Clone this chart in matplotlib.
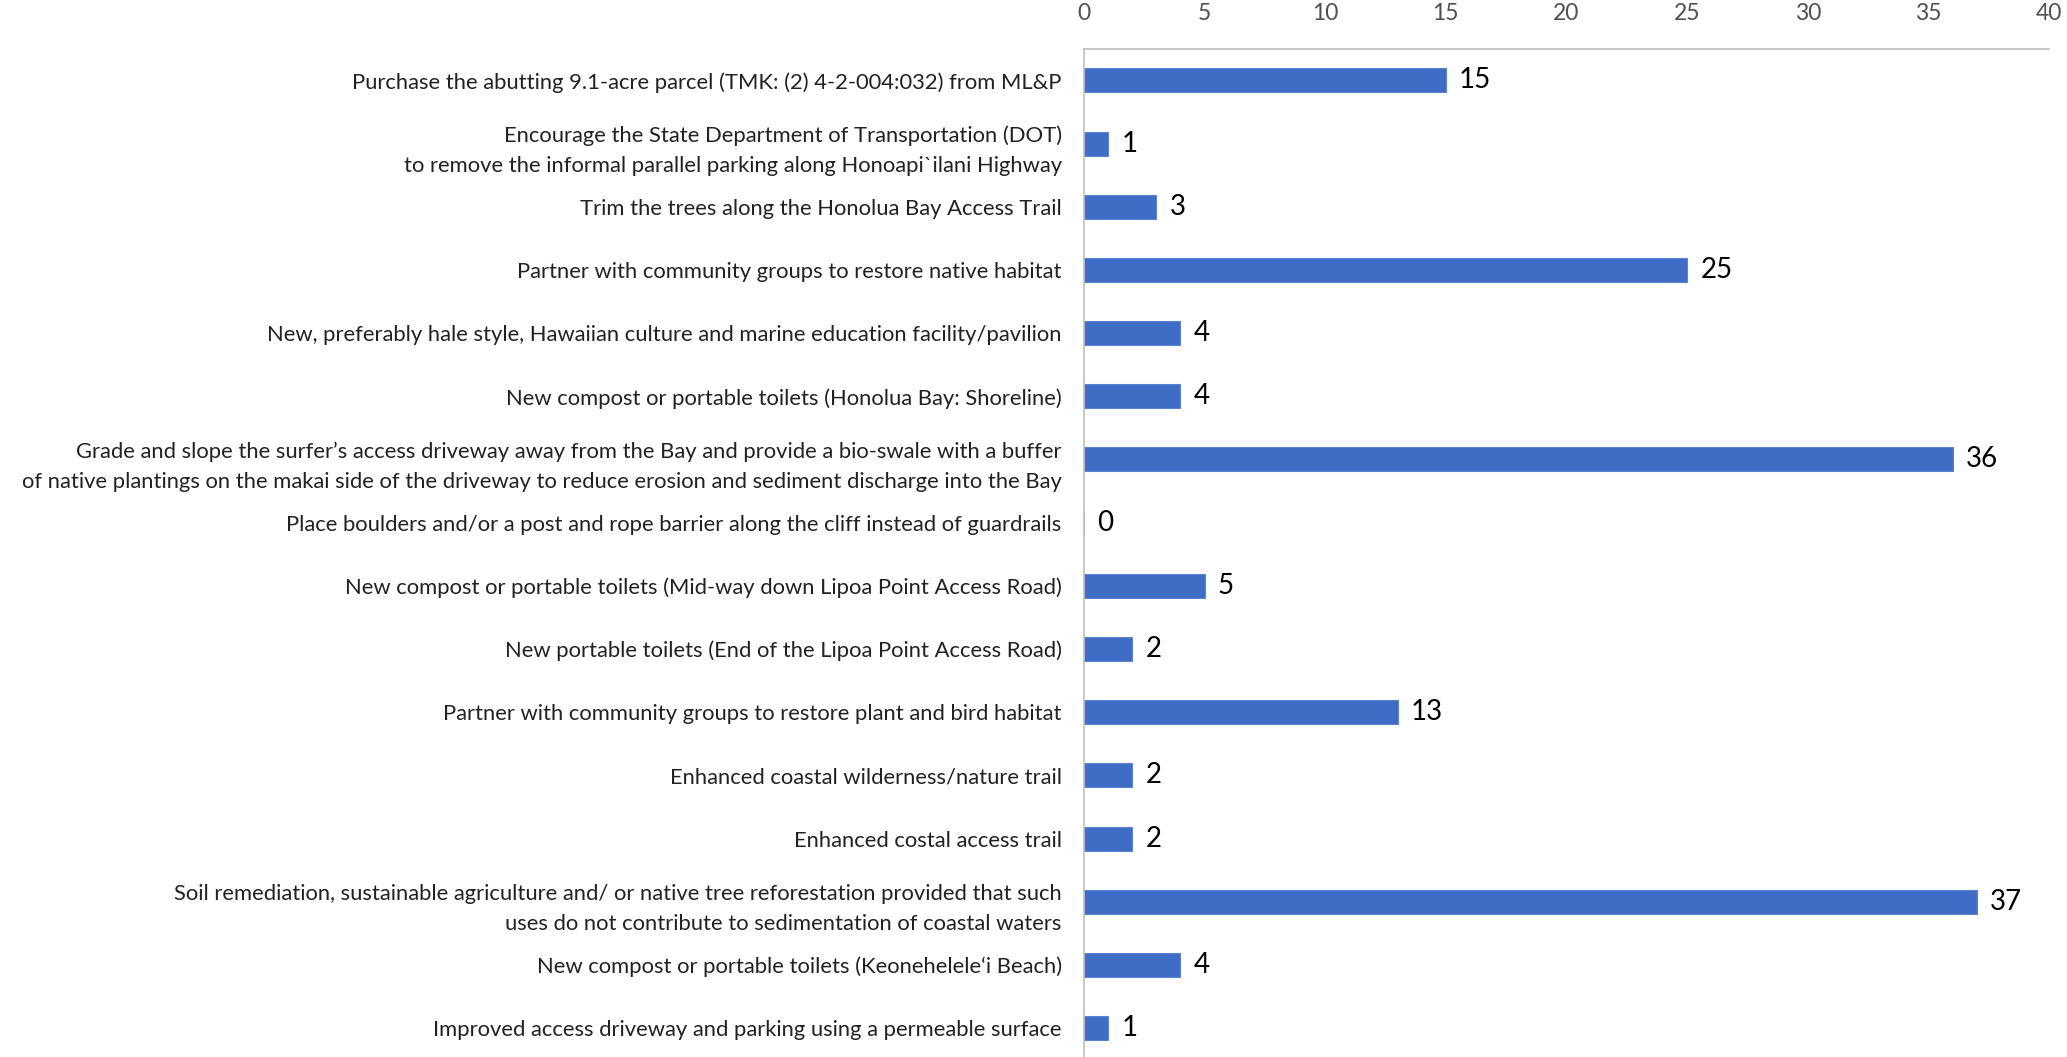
import matplotlib.pyplot as plt

plt.rcParams['font.family'] = ['Lato', 'DejaVu Sans']

# survey items, top to bottom, and their vote counts
items = [
    "Purchase the abutting 9.1-acre parcel (TMK: (2) 4-2-004:032) from ML&P",
    "Encourage the State Department of Transportation (DOT)\nto remove the informal parallel parking along Honoapi`ilani Highway",
    "Trim the trees along the Honolua Bay Access Trail",
    "Partner with community groups to restore native habitat",
    "New, preferably hale style, Hawaiian culture and marine education facility/pavilion",
    "New compost or portable toilets (Honolua Bay: Shoreline)",
    "Grade and slope the surfer’s access driveway away from the Bay and provide a bio-swale with a buffer\nof native plantings on the makai side of the driveway to reduce erosion and sediment discharge into the Bay",
    "Place boulders and/or a post and rope barrier along the cliff instead of guardrails",
    "New compost or portable toilets (Mid-way down Lipoa Point Access Road)",
    "New portable toilets (End of the Lipoa Point Access Road)",
    "Partner with community groups to restore plant and bird habitat",
    "Enhanced coastal wilderness/nature trail",
    "Enhanced costal access trail",
    "Soil remediation, sustainable agriculture and/ or native tree reforestation provided that such\nuses do not contribute to sedimentation of coastal waters",
    "New compost or portable toilets (Keonehelele‘i Beach)",
    "Improved access driveway and parking using a permeable surface",
]
votes = [15, 1, 3, 25, 4, 4, 36, 0, 5, 2, 13, 2, 2, 37, 4, 1]
xticks = [0, 5, 10, 15, 20, 25, 30, 35, 40]

fig = plt.figure(figsize=(20.67, 10.57), dpi=100)
ax = fig.add_axes([0.5244, -0.0026, 0.4669, 0.9565])

pos = list(range(len(items)))
ax.barh(pos, votes, height=0.38, color="#3F6DC6", edgecolor="#5A84D2", linewidth=0.8)
for y, v in zip(pos, votes):
    ax.text(v + 0.55, y, str(v), va='center', ha='left', fontsize=20, color="#000000")

ax.set_xlim(0, 40)
ax.set_ylim(len(items) - 0.5, -0.5)
ax.set_yticks(pos)
ax.set_yticklabels(items, fontsize=15.8, color="#222222", linespacing=1.62)
ax.set_xticks(xticks)
ax.xaxis.tick_top()
ax.tick_params(axis='x', length=0, pad=18, labelsize=16.5, labelcolor="#505050")
ax.tick_params(axis='y', length=0, pad=16)

for s in ['right', 'bottom']:
    ax.spines[s].set_visible(False)
for s in ['left', 'top']:
    ax.spines[s].set_color("#BFBFBF")
    ax.spines[s].set_linewidth(1.2)

plt.savefig("out.png", dpi=100, facecolor="white")
